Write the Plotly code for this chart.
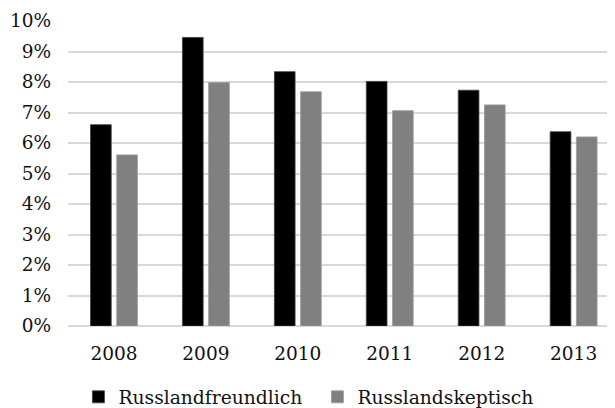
import plotly.graph_objects as go

years = ["2008", "2009", "2010", "2011", "2012", "2013"]
freundlich = [6.6, 9.46, 8.34, 8.02, 7.73, 6.37]
skeptisch = [5.61, 7.98, 7.68, 7.06, 7.25, 6.20]
y_ticks = [0, 1, 2, 3, 4, 5, 6, 7, 8, 9, 10]
y_labels = [f"{v}%" for v in y_ticks]

font_family = "DejaVu Serif"

fig = go.Figure()
fig.add_trace(go.Bar(x=years, y=freundlich, name="Russlandfreundlich",
                     marker=dict(color="#000000", line=dict(color="#404040", width=0.8))))
fig.add_trace(go.Bar(x=years, y=skeptisch, name="Russlandskeptisch",
                     marker=dict(color="#808080", line=dict(color="#9a9a9a", width=0.8))))

# page body has an 8px default margin, so the figure is sized to fill the rest
fig.update_layout(
    width=607, height=400,
    margin=dict(l=60, r=0, t=13, b=81.5),
    paper_bgcolor="white", plot_bgcolor="white",
    barmode="group", bargap=0.43, bargroupgap=0.21,
    font=dict(family=font_family, size=18.5, color="#111111"),
    showlegend=True,
    legend=dict(orientation="h", xref="paper", x=0.456, xanchor="center",
                yref="container", y=0.027, yanchor="middle",
                font=dict(family=font_family, size=18.7, color="#111111"),
                entrywidth=194, entrywidthmode="pixels", itemclick=False,
                borderwidth=0, tracegroupgap=0),
)
fig.update_xaxes(type="category", range=[-0.5, 5.45], showgrid=False, showline=False,
                 ticks="", tickfont=dict(size=18.5), ticklabelstandoff=14)
fig.update_yaxes(range=[0, 10], tickvals=y_ticks, ticktext=y_labels, showgrid=True,
                 gridcolor="#d9d9d9", gridwidth=1.5, zeroline=True, zerolinecolor="#d9d9d9",
                 zerolinewidth=1.5, showline=False, ticks="", tickfont=dict(size=18.5),
                 ticklabelstandoff=16)

fig.write_html("out.html")
